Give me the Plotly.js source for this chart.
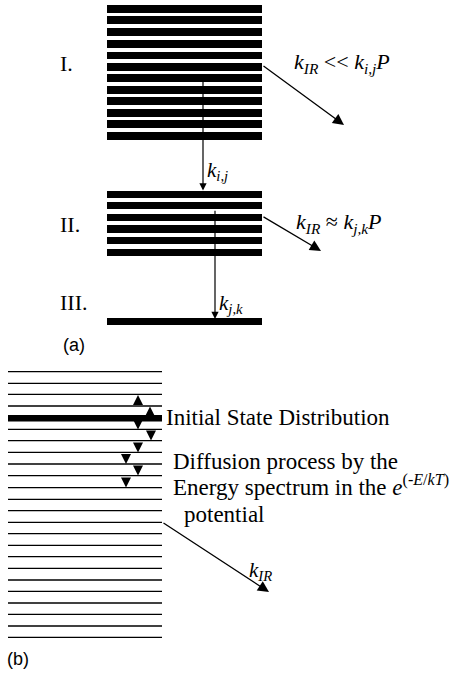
<!DOCTYPE html>
<html>
<head>
<meta charset="utf-8">
<script src="https://cdn.plot.ly/plotly-3.0.1.min.js"></script>
<style>
  html, body { margin: 0; padding: 0; background: #fff; }
  #diagram { width: 453px; height: 677px; }
</style>
</head>
<body>
<div id="diagram"></div>
<script>
// Level positions (diagram units, measured downward from the top)
const levelsI   = [9.2, 20.3, 32.3, 43.8, 55.5, 67.2, 78.3, 89.7, 101.3, 112.8, 124.3, 136.2];
const levelsII  = [194.2, 205.7, 217.5, 229.0, 240.7, 252.3];
const levelsIII = [321.5];
const levelsB   = [371.7, 383.3, 394.3, 406.0, 418.3, 429.3, 440.7, 452.3, 464.0, 475.7, 487.7, 499.3,
                   510.7, 522.3, 533.7, 545.3, 556.7, 568.3, 580.0, 591.3, 603.0, 614.3, 626.0, 637.3];
const initialStateB = 418.3;

// Level widths (horizontal extent)
const barStartA = 107, barEndA = 262;
const lineStartB = 8, lineEndB = 162;

// Vertical relaxation steps in (a): [x, fromY, toY]
const cascadeSteps = [
  [203, 74.0, 190.5],
  [215, 209.3, 319.0]
];
// IR emission arrows: [fromX, fromY, toX, toY]
const irArrowsA = [
  [262, 65, 344, 125],
  [262, 216, 321, 251]
];
const irArrowB = [162, 522, 269, 592];

// Diffusion steps between neighbouring levels in (b): [x, fromY, toY]
const diffusionSteps = [
  [138, 405.5, 395.0],
  [150, 415.0, 406.5],
  [138, 421.7, 429.5],
  [151, 431.7, 440.5],
  [138, 443.0, 452.5],
  [126, 455.0, 464.0],
  [138, 466.7, 475.5],
  [126, 477.7, 487.5]
];

const serif = 'Liberation Serif, Times New Roman, serif';
const sans = 'Liberation Sans, Arial, sans-serif';

function hbar(levels, start, end, thick) {
  return {
    type: 'bar', orientation: 'h',
    y: levels, x: levels.map(() => end - start), base: start,
    width: thick, marker: { color: '#000', line: { width: 0 } },
    hoverinfo: 'skip', showlegend: false
  };
}

// thin levels of (b) as one broken line
const bx = [], by = [];
levelsB.forEach(v => { bx.push(lineStartB, lineEndB, null); by.push(v, v, null); });

const traces = [
  hbar(levelsI, barStartA, barEndA, 7.8),
  hbar(levelsII, barStartA, barEndA, 7.3),
  hbar(levelsIII, barStartA, barEndA, 7.6),
  {
    type: 'scatter', mode: 'lines', x: bx, y: by, connectgaps: false,
    line: { color: '#000', width: 1.3 }, hoverinfo: 'skip', showlegend: false
  },
  {
    type: 'scatter', mode: 'lines', x: [lineStartB, lineEndB], y: [initialStateB, initialStateB],
    line: { color: '#000', width: 6.5 }, hoverinfo: 'skip', showlegend: false
  }
];

function arrow(x0, y0, x1, y1, w, size) {
  return {
    x: x1, y: y1, ax: x0, ay: y0, xref: 'x', yref: 'y', axref: 'x', ayref: 'y',
    text: '', showarrow: true, arrowhead: 2, arrowwidth: w, arrowsize: size,
    arrowcolor: '#000', standoff: 0, startstandoff: 0
  };
}
function label(text, x, y, size, family, anchor) {
  return {
    x: x, y: y, xref: 'x', yref: 'y', text: text, showarrow: false,
    xanchor: anchor || 'left', yanchor: 'middle',
    font: { family: family || serif, size: size, color: '#000' }
  };
}

const annotations = [];
cascadeSteps.forEach(s => annotations.push(arrow(s[0], s[1], s[0], s[2], 1.2, 1.2)));
irArrowsA.forEach(a => annotations.push(arrow(a[0], a[1], a[2], a[3], 1.3, 1.7)));
annotations.push(arrow(irArrowB[0], irArrowB[1], irArrowB[2], irArrowB[3], 1.3, 1.7));
diffusionSteps.forEach(s => annotations.push(arrow(s[0], s[1], s[0], s[2], 1, 2)));

annotations.push(
  label('I.', 58, 63, 22),
  label('II.', 58, 224, 22),
  label('III.', 58, 302, 22),
  label('(a)', 61, 345, 18, sans),
  label('<i>k</i><sub><i>IR</i></sub> &lt;&lt; <i>k</i><sub><i>i,j</i></sub><i>P</i>', 292, 63, 22),
  label('<i>k</i><sub><i>IR</i></sub> ≈ <i>k</i><sub><i>j,k</i></sub><i>P</i>', 294, 223, 22),
  label('<i>k</i><sub><i>i,j</i></sub>', 205, 171, 21),
  label('<i>k</i><sub><i>j,k</i></sub>', 217, 304, 21),
  label('Initial State Distribution', 164, 417, 23),
  label('Diffusion process by the', 171, 461, 23),
  label('Energy spectrum in the <i>e</i><sup>(-<i>E</i>/<i>kT</i>)</sup>', 171, 485, 23),
  label('potential', 182, 514, 23),
  label('<i>k</i><sub><i>IR</i></sub>', 247, 571, 21),
  label('(b)', 5, 659, 18, sans)
);

const hidden = { visible: false, showgrid: false, zeroline: false, fixedrange: true };
const layout = {
  width: 453, height: 677,
  margin: { l: 0, r: 0, t: 0, b: 0, pad: 0 },
  paper_bgcolor: '#fff', plot_bgcolor: '#fff',
  xaxis: Object.assign({ range: [0, 453], autorange: false }, hidden),
  yaxis: Object.assign({ range: [677, 0], autorange: false }, hidden),
  barmode: 'overlay', bargap: 0,
  showlegend: false,
  annotations: annotations
};

Plotly.newPlot('diagram', traces, layout, { staticPlot: true, displayModeBar: false });
</script>
</body>
</html>
